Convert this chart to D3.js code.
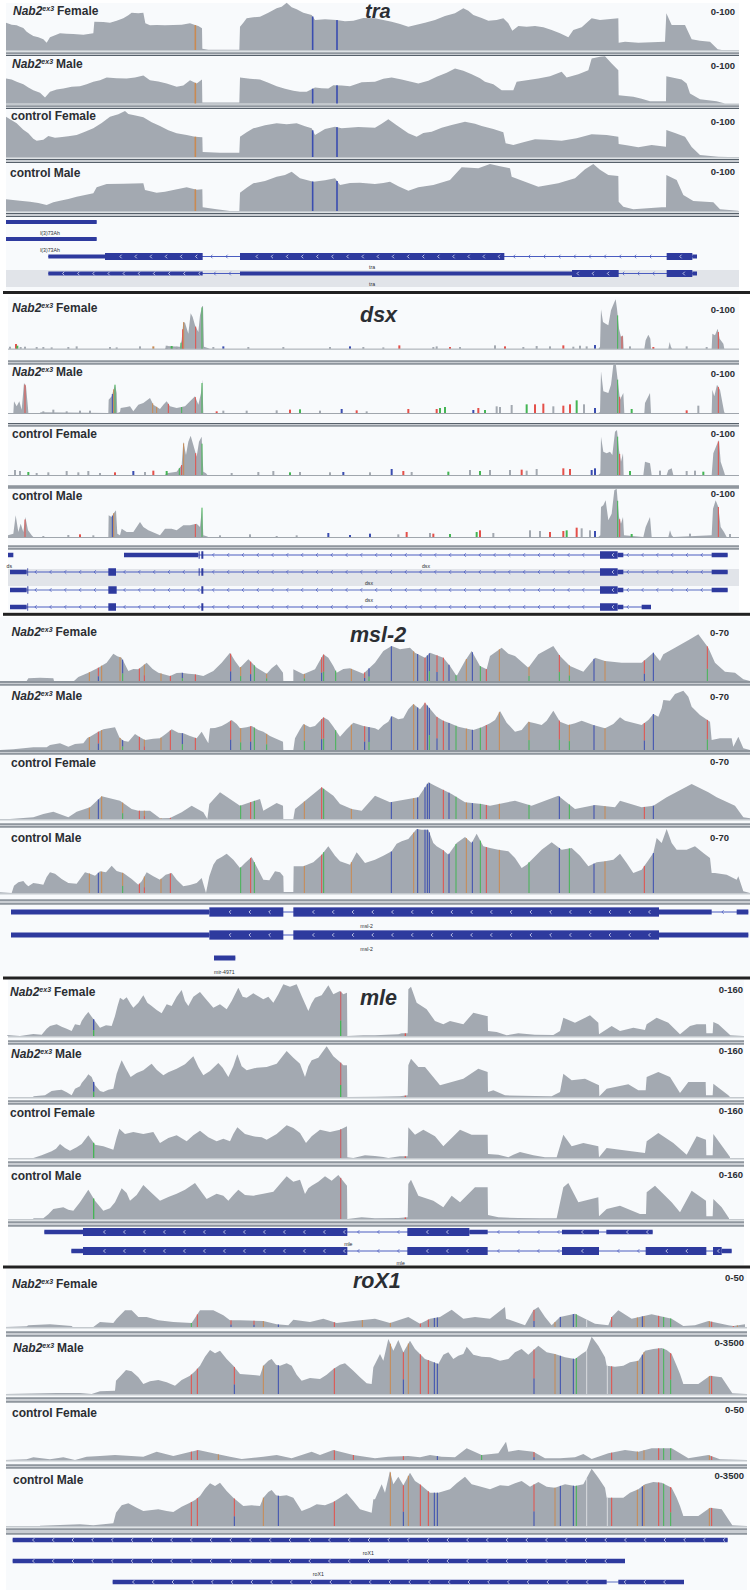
<!DOCTYPE html>
<html>
<head>
<meta charset="utf-8">
<title>Coverage tracks</title>
<script src="https://cdn.jsdelivr.net/npm/d3@7"></script>
<style>
  html, body { margin: 0; padding: 0; background: #fff; }
  svg { display: block; }
  text { font-family: "Liberation Sans", Arial, sans-serif; fill: #2b2e33; }
</style>
</head>
<body>
<div id="chart"></div>
<script>
// Coverage is stored as flat lists: position, height, position, height ...
// Position is window position (0-2250), height is relative read depth (150 = 50px of track)

// ---- tra ----
const traNabFemale = [18,82,35,76,50,74,60,70,70,66,80,55,90,48,100,42,115,38,130,32,140,22,150,38,165,44,180,50,200,49,220,48,250,46,280,50,283,85,310,84,330,82,350,88,370,95,385,104,395,112,415,110,430,112,436,80,450,74,470,75,495,74,520,75,545,76,570,80,585,75,595,72,606,65,607,4,625,1,718,1,720,70,730,82,740,95,760,98,780,100,805,112,830,125,845,130,860,142,875,128,890,122,910,112,935,105,945,90,975,92,1010,90,1035,86,1060,88,1090,96,1125,95,1150,90,1175,85,1200,78,1225,70,1250,76,1275,82,1305,90,1335,102,1365,110,1390,125,1405,118,1420,105,1445,96,1465,88,1490,90,1510,95,1525,80,1537,58,1555,72,1580,70,1605,72,1630,68,1655,60,1680,50,1705,38,1720,60,1745,68,1775,95,1800,90,1855,95,1856,22,1875,25,1915,22,1955,23,1995,25,1999,110,2015,75,2055,75,2075,32,2100,28,2130,25,2153,2,2165,0,2217,0];
const traNabMale = [18,75,35,72,50,65,70,58,85,48,100,40,120,32,135,18,150,35,170,42,190,45,215,50,240,52,260,58,280,65,300,70,320,78,350,76,380,75,405,78,430,84,450,70,475,66,500,60,530,50,550,54,570,70,590,60,606,72,607,3,718,3,720,78,750,74,780,72,805,62,830,52,855,44,880,38,900,35,920,35,945,48,965,46,985,45,1000,55,1025,54,1050,52,1085,64,1125,65,1150,74,1175,78,1205,72,1230,66,1255,60,1285,68,1310,80,1340,92,1365,105,1390,98,1415,88,1440,76,1455,65,1480,58,1505,40,1540,40,1550,65,1580,70,1615,75,1650,82,1685,95,1700,78,1735,88,1765,100,1775,135,1800,140,1815,142,1835,120,1855,100,1856,25,1900,20,1925,14,1950,7,1998,7,1999,82,2045,72,2060,60,2070,30,2100,13,2150,7,2175,0,2217,0];
const traCtrlFemale = [18,121,35,110,50,101,70,82,85,71,100,55,110,49,130,52,145,63,165,58,180,59,205,62,230,66,255,76,280,86,305,102,330,121,355,128,375,138,385,129,410,124,430,119,455,104,480,93,505,80,530,71,560,66,585,61,607,59,608,15,660,13,718,13,720,61,740,74,760,86,795,95,830,101,860,98,890,101,915,92,935,86,945,66,975,84,1005,91,1025,86,1075,90,1125,88,1145,100,1165,113,1190,95,1225,71,1250,61,1270,72,1295,76,1325,88,1355,96,1395,106,1425,100,1445,93,1480,84,1510,74,1517,41,1540,36,1570,44,1605,53,1640,52,1685,49,1730,56,1775,68,1820,66,1855,61,1856,39,1880,35,1915,29,1955,36,1998,31,1999,81,2025,72,2055,61,2075,30,2100,6,2155,1,2185,0,2217,0];
const traCtrlMale = [18,35,60,31,90,28,115,24,140,18,160,26,180,31,205,36,230,43,255,48,280,53,290,71,320,81,370,82,430,83,435,63,470,55,495,58,520,63,560,71,590,64,607,65,608,11,650,5,690,0,718,0,720,55,740,70,760,83,795,90,830,103,855,108,875,118,900,98,940,88,975,92,1005,98,1020,78,1050,84,1080,85,1125,81,1150,84,1170,88,1195,74,1225,61,1255,71,1300,78,1350,93,1385,131,1435,128,1470,141,1500,134,1530,128,1535,103,1575,88,1615,73,1675,83,1725,98,1755,125,1780,141,1800,124,1825,108,1855,105,1856,28,1870,13,1900,5,1985,11,1998,11,1999,108,2030,93,2050,48,2080,30,2140,26,2160,5,2215,1];
const traBars = [[586,'G'],[938,'C'],[1011,'C']];

// ---- dsx ----
const dsxNabFemale = [24,0,495,0,500,8,540,6,545,26,550,80,555,78,565,45,572,106,578,95,585,70,595,50,600,100,607,128,609,128,612,6,630,0,1795,0,1800,5,1803,118,1809,80,1817,75,1825,70,1833,115,1841,135,1847,148,1851,120,1857,60,1863,35,1869,40,1871,0,1933,0,1937,25,1945,42,1951,30,1953,0,2005,0,2009,20,2013,5,2016,0,2135,0,2137,45,2145,40,2153,60,2159,30,2170,15,2173,0,2217,0];
const dsxNabMale = [40,0,42,35,50,20,58,35,65,10,72,90,78,80,84,15,85,0,120,0,122,2,325,0,326,40,335,50,345,85,350,60,352,0,360,3,362,15,380,18,390,20,400,5,415,25,430,30,450,45,460,25,480,12,490,25,500,35,510,20,530,15,555,20,570,35,585,50,595,25,603,60,607,100,610,0,1795,0,1800,3,1803,125,1810,65,1825,60,1833,85,1840,145,1847,150,1853,100,1860,40,1870,60,1873,0,1933,0,1935,30,1950,60,1953,0,2135,0,2137,70,2143,50,2151,85,2160,70,2172,5,2174,0,2217,0];
const dsxCtrlFemale = [24,0,495,0,500,5,530,10,545,30,550,100,558,60,565,100,572,118,580,90,590,55,597,100,605,115,610,10,618,5,622,0,1795,0,1801,5,1803,115,1810,70,1820,65,1830,70,1837,60,1845,130,1851,135,1857,75,1863,40,1869,65,1871,0,1930,0,1935,40,1950,35,1955,0,2000,0,2005,15,2015,20,2020,0,2135,0,2140,65,2150,90,2157,105,2162,40,2172,10,2175,0,2217,0];
const dsxCtrlMale = [24,5,40,10,47,65,55,15,62,40,70,15,76,60,84,20,95,5,100,0,325,0,326,65,335,60,340,70,348,80,352,10,360,5,365,25,380,15,400,15,420,45,430,30,445,20,480,5,495,25,515,25,530,20,550,35,570,35,590,40,600,30,606,88,610,5,620,2,625,0,1795,0,1801,5,1803,90,1810,95,1817,110,1825,50,1835,70,1843,140,1850,145,1857,60,1863,40,1869,60,1872,5,1930,0,1937,30,1950,60,1955,0,2005,0,2010,20,2015,5,2020,0,2135,5,2139,85,2147,110,2155,90,2162,30,2172,15,2180,0,2217,0];

const dsxNabFemaleTicks = [30,6,'N',48,14,'T',52,9,'A',62,5,'N',75,6,'N',110,5,'N',130,5,'N',155,4,'N',205,5,'N',230,7,'N',330,5,'N',350,4,'N',420,7,'N',460,7,'G',500,9,'N',515,8,'A',530,6,'N',640,5,'N',670,7,'C',745,5,'N',850,5,'N',990,5,'N',1050,7,'C',1090,5,'N',1150,4,'N',1198,10,'T',1300,5,'N',1310,7,'N',1350,5,'T',1380,5,'N',1485,10,'N',1515,7,'T',1570,5,'N',1610,8,'N',1650,7,'N',1690,10,'T',1720,6,'N',1740,9,'N',1760,7,'N',1785,11,'C',1890,7,'N',1960,5,'T',2060,7,'N',2120,5,'N'];
const dsxNabMaleTicks = [130,5,'N',160,10,'N',200,5,'N',240,7,'N',270,7,'N',650,5,'T',670,7,'N',740,7,'N',830,8,'N',870,10,'T',900,11,'A',960,7,'N',1025,12,'C',1070,8,'T',1100,5,'N',1225,12,'T',1310,12,'T',1320,15,'A',1335,18,'A',1420,9,'C',1435,15,'T',1455,9,'A',1490,20,'N',1500,18,'N',1535,24,'N',1580,26,'A',1605,26,'T',1630,28,'T',1660,20,'N',1690,22,'T',1710,26,'T',1730,38,'A',1752,26,'N',1785,15,'C',1895,12,'A',2060,8,'T',2095,22,'N'];
const dsxCtrlFemaleTicks = [45,15,'N',60,12,'N',85,9,'A',110,6,'N',145,8,'N',200,12,'N',235,8,'N',265,12,'N',300,6,'N',345,8,'T',400,12,'C',435,9,'N',460,13,'T',500,12,'A',695,6,'N',775,9,'N',820,12,'N',870,8,'A',900,9,'N',990,8,'N',1030,9,'C',1110,8,'N',1175,18,'C',1210,12,'T',1235,9,'N',1345,10,'A',1410,15,'N',1440,12,'A',1470,15,'N',1530,15,'N',1565,16,'T',1580,13,'N',1610,18,'N',1690,20,'T',1710,18,'T',1775,15,'C',1785,20,'C',1890,12,'A',1980,13,'N',2010,9,'N',2060,12,'N',2085,13,'N',2110,10,'A'];
const dsxCtrlMaleTicks = [130,3,'N',205,6,'N',240,8,'T',280,5,'N',660,5,'N',750,8,'N',830,3,'N',890,5,'N',985,12,'C',1050,6,'C',1110,10,'C',1195,8,'N',1220,15,'T',1290,12,'N',1300,10,'T',1350,9,'A',1430,15,'A',1440,20,'T',1480,12,'N',1590,20,'N',1620,18,'N',1650,15,'T',1690,18,'T',1700,20,'A',1730,28,'T',1745,26,'N',1770,20,'N',1785,18,'C',1895,9,'A',2010,6,'N',2070,10,'N',2190,9,'N'];

const dsxNabFemaleBars = [[543,'A'],[548,'T'],[551,'G'],[587,'T'],[606,'A'],[1853,'A'],[1866,'T'],[2155,'T']];
const dsxNabMaleBars = [[75,'T'],[337,'C'],[341,'G'],[345,'A'],[458,'G'],[470,'G'],[505,'T'],[545,'A'],[586,'T'],[606,'A'],[1853,'A'],[1859,'T'],[2155,'T']];
const dsxCtrlFemaleBars = [[538,'A'],[545,'T'],[551,'G'],[587,'T'],[606,'A'],[1853,'A'],[1859,'T'],[2155,'T']];
const dsxCtrlMaleBars = [[75,'T'],[337,'C'],[341,'G'],[586,'T'],[606,'A'],[1853,'A'],[1859,'T'],[2155,'T']];

// ---- msl-2 ----
const mslNabFemale = [0,0,80,0,85,8,120,10,160,8,162,0,222,0,235,12,265,25,295,40,320,55,340,82,352,74,365,70,385,30,400,36,415,35,440,55,458,36,475,25,510,15,530,24,545,25,565,22,585,20,610,15,640,30,665,55,690,85,705,60,720,40,745,65,770,40,800,22,815,38,830,50,849,25,850,0,880,0,880,35,910,20,945,35,970,80,985,70,1000,45,1010,25,1030,36,1050,38,1070,30,1090,22,1125,55,1150,90,1175,105,1200,95,1230,100,1245,85,1275,70,1290,85,1330,70,1350,45,1370,15,1395,60,1415,90,1440,45,1460,35,1470,75,1505,100,1525,82,1545,75,1585,40,1615,80,1660,105,1680,75,1710,45,1750,28,1785,70,1815,60,1865,55,1925,55,1960,85,1980,60,1990,80,2025,100,2070,125,2095,140,2125,100,2145,55,2175,28,2205,25,2230,5,2250,0];
const mslNabMale = [0,0,40,2,100,8,140,8,150,15,180,20,205,10,225,18,250,20,262,36,270,40,295,55,310,62,345,68,358,38,370,28,385,25,405,48,420,38,435,30,460,34,480,35,500,50,515,62,535,52,550,50,570,42,590,35,605,55,625,20,630,65,645,66,665,72,680,80,695,90,710,78,720,65,740,68,755,72,775,60,790,55,810,42,825,35,849,25,850,0,880,0,885,35,900,62,910,78,930,68,945,72,970,98,985,90,1000,70,1020,40,1040,62,1060,82,1090,72,1125,65,1135,60,1150,75,1165,85,1175,102,1195,92,1210,95,1225,122,1240,138,1260,122,1275,142,1295,118,1310,100,1330,88,1350,80,1375,70,1395,65,1420,60,1445,68,1470,80,1485,90,1500,117,1520,82,1545,55,1565,60,1585,85,1605,80,1625,75,1640,88,1660,118,1680,85,1705,75,1725,80,1745,88,1780,75,1815,65,1840,78,1860,98,1875,88,1925,75,1945,90,1960,108,1975,100,1985,125,1990,150,2010,148,2025,168,2050,178,2065,160,2075,130,2100,105,2130,85,2135,30,2160,35,2195,35,2200,10,2215,40,2230,5,2250,0];
const mslCtrlFemale = [0,0,30,0,100,5,130,15,160,22,205,5,230,22,270,35,305,68,360,55,395,30,415,25,450,25,480,2,510,3,545,20,575,40,610,20,622,0,628,45,660,80,690,60,720,40,780,60,790,25,830,48,849,40,850,0,880,0,885,30,910,50,965,95,1000,70,1020,45,1055,30,1085,25,1125,70,1170,50,1225,60,1255,65,1285,110,1305,100,1355,75,1395,50,1445,45,1470,40,1545,55,1595,40,1675,70,1725,30,1785,42,1845,35,1860,55,1925,35,1960,40,2000,65,2075,105,2125,80,2150,65,2205,40,2230,5,2250,2];
const mslCtrlMale = [0,2,35,0,42,22,55,32,70,36,78,26,85,20,100,30,115,28,130,25,140,48,150,62,165,58,185,42,205,30,230,28,255,62,270,58,285,52,300,65,318,62,335,82,350,66,370,60,395,42,415,25,425,35,440,62,460,50,480,40,497,55,515,60,530,40,550,20,570,24,590,30,605,45,618,0,628,50,640,85,650,100,665,108,680,118,700,100,720,75,735,90,755,108,772,75,790,40,808,38,825,65,840,62,850,50,851,3,880,3,881,80,910,80,940,92,965,115,985,140,1005,112,1020,95,1050,85,1070,122,1095,90,1125,100,1150,112,1175,125,1190,148,1205,155,1225,162,1250,192,1265,190,1285,190,1300,150,1310,140,1330,128,1345,115,1370,150,1395,168,1415,150,1430,178,1450,140,1470,135,1495,130,1525,125,1545,105,1565,75,1580,85,1595,100,1625,130,1655,152,1685,130,1715,135,1740,112,1765,80,1790,92,1815,95,1840,100,1860,118,1880,90,1900,60,1925,70,1945,98,1960,120,1970,165,1985,150,2000,192,2015,150,2030,130,2060,130,2085,140,2110,120,2130,105,2135,60,2145,60,2180,55,2210,40,2215,50,2230,5,2250,0];

const mslNabBars = [[268,'G'],[295,'C','T'],[305,'G'],[360,'G'],[368,'A','C'],[418,'T'],[433,'T','G'],[483,'G'],[511,'T'],[547,'A','C'],[586,'T'],[692,'C','T'],[722,'A','G'],[752,'C','T'],[763,'A'],[800,'A','G'],[913,'A','G'],[965,'C','T'],[971,'A','T'],[1007,'A'],[1054,'G'],[1094,'C','T'],[1107,'A','C'],[1174,'C'],[1241,'G'],[1253,'C'],[1275,'T'],[1282,'C'],[1288,'A','C'],[1311,'C','T'],[1330,'T'],[1347,'C'],[1368,'A'],[1399,'G'],[1417,'C'],[1441,'A'],[1459,'T'],[1498,'G'],[1587,'A','G'],[1678,'A','T'],[1708,'A','G'],[1782,'C'],[1815,'G'],[1933,'C','T'],[1960,'C'],[2122,'A','T']];
const mslCtrlBars = [[268,'G'],[295,'C'],[305,'G'],[368,'A','G'],[418,'T'],[433,'T','G'],[483,'G'],[511,'T'],[722,'A'],[752,'T'],[763,'A'],[913,'G'],[965,'T'],[971,'A'],[1054,'G'],[1174,'C'],[1241,'G'],[1253,'C'],[1275,'C'],[1282,'C'],[1288,'C'],[1330,'T'],[1347,'C'],[1368,'A'],[1399,'G'],[1417,'C'],[1441,'A'],[1459,'T'],[1498,'G'],[1587,'A'],[1678,'C'],[1708,'A'],[1782,'C'],[1815,'G'],[1933,'T'],[1960,'C']];

// ---- mle ----
const mleNabFemale = [22,3,60,0,100,6,125,4,140,22,150,30,170,35,185,28,200,22,215,15,225,35,240,32,245,45,255,60,265,72,275,58,285,45,300,25,318,32,335,30,345,60,352,88,360,115,370,108,380,116,392,96,400,85,415,100,430,122,442,100,455,90,470,78,485,68,500,95,515,90,530,118,545,138,555,105,565,90,580,118,600,132,620,108,640,85,660,95,680,80,695,105,715,145,728,118,740,115,760,128,790,110,805,118,820,100,835,125,850,155,870,148,890,155,905,120,925,75,935,98,945,115,965,122,985,152,1000,125,1020,135,1030,125,1041,130,1042,0,1090,2,1125,2,1195,5,1205,8,1223,8,1225,140,1233,148,1250,100,1280,80,1305,45,1330,35,1350,45,1390,35,1420,70,1460,60,1463,60,1464,15,1490,12,1520,2,1555,8,1605,4,1660,3,1680,15,1690,55,1725,40,1770,62,1795,40,1797,5,1820,20,1835,30,1860,15,1900,25,1935,18,1940,35,1970,55,2005,40,2040,5,2070,30,2090,35,2118,35,2119,8,2138,8,2140,42,2155,35,2191,2,2230,0];
const mleNabMale = [100,2,135,5,155,18,170,20,185,22,200,14,215,5,225,25,240,32,245,42,258,58,265,68,275,60,285,35,300,18,310,15,325,22,340,25,350,70,358,92,365,110,378,85,392,60,410,72,430,80,445,92,455,100,470,82,490,65,505,74,530,85,555,98,580,122,595,90,610,65,630,78,655,102,668,88,685,60,700,92,712,128,725,92,740,80,770,88,800,90,830,100,860,138,880,118,900,100,915,60,925,92,935,110,955,118,980,152,1000,122,1020,105,1030,95,1041,95,1042,0,1125,1,1200,2,1223,5,1225,95,1233,115,1255,90,1275,90,1320,35,1355,45,1390,55,1435,85,1463,75,1464,15,1480,20,1515,5,1605,3,1655,2,1680,15,1690,70,1715,50,1755,55,1797,35,1798,2,1820,25,1885,38,1915,20,1937,20,1940,60,1975,75,2010,60,2040,12,2065,45,2117,45,2118,5,2138,5,2140,40,2185,5,2190,0];
const mleCtrlFemale = [100,0,125,8,155,20,168,28,180,42,195,30,210,22,230,32,245,42,265,68,285,40,310,35,340,25,350,62,358,88,375,72,400,78,430,72,460,78,480,45,505,60,530,68,560,50,580,68,600,82,625,62,650,50,670,58,690,50,700,72,712,92,735,72,760,65,785,62,800,55,830,72,860,98,880,90,900,75,918,45,935,65,960,85,990,78,1020,85,1041,95,1042,2,1060,0,1095,8,1125,6,1150,3,1165,0,1200,5,1223,5,1225,92,1245,70,1270,85,1305,65,1330,35,1380,85,1415,70,1463,70,1464,12,1495,10,1525,2,1540,10,1560,18,1600,8,1635,2,1670,2,1690,70,1715,35,1750,45,1795,35,1797,2,1820,30,1860,25,1935,15,1940,50,1975,75,2020,45,2060,10,2090,65,2118,55,2119,8,2138,8,2140,72,2190,3];
const mleCtrlMale = [100,2,130,2,145,14,160,30,190,35,205,28,220,25,240,50,252,68,265,88,285,55,310,25,330,32,345,50,365,92,380,78,390,55,410,72,430,102,455,78,480,55,505,66,530,76,555,88,585,108,605,80,620,60,650,76,670,70,685,55,700,72,715,88,735,72,760,70,790,76,820,82,840,105,860,128,880,112,900,118,915,75,925,92,935,100,955,112,975,128,995,115,1015,132,1041,100,1042,0,1085,5,1125,2,1195,3,1223,5,1225,105,1233,118,1255,70,1300,55,1330,35,1355,70,1380,50,1425,95,1463,95,1464,12,1495,5,1555,3,1620,2,1670,2,1690,95,1705,108,1735,50,1795,65,1797,8,1820,30,1860,40,1920,15,1938,15,1940,80,1965,100,2015,50,2040,20,2075,85,2118,55,2119,8,2138,8,2140,60,2165,35,2187,2];

const mleNabBars = [[281,'A','C'],[1022,'A','M'],[1216,'T']];
const mleCtrlBars = [[281,'A'],[1022,'M'],[1216,'T']];

// ---- roX1 ----
const roxNabFemale = [15,0,80,2,85,5,150,8,215,3,218,0,280,0,300,15,340,12,350,25,375,50,395,50,415,30,440,30,475,20,520,15,575,12,600,50,640,50,670,35,690,20,720,20,790,18,830,8,865,5,880,22,930,15,970,25,1010,12,1060,18,1125,25,1170,12,1225,30,1260,10,1290,25,1320,30,1355,52,1390,25,1425,30,1470,25,1515,60,1518,25,1575,5,1600,50,1615,60,1635,30,1655,5,1680,30,1725,40,1785,10,1825,5,1835,30,1855,50,1895,25,1955,38,2015,25,2050,3,2085,5,2125,18,2185,5,2200,3,2235,8];
const roxNabMale = [15,0,170,3,240,3,275,0,300,8,345,10,348,40,365,58,378,72,395,68,415,50,430,30,450,38,475,42,500,35,525,25,545,42,570,55,585,68,600,85,615,112,630,132,645,122,660,130,680,105,700,85,720,60,750,58,780,55,790,85,805,100,815,105,828,88,840,85,860,92,875,85,890,58,905,40,930,48,960,45,980,58,1000,75,1020,88,1035,92,1060,70,1080,50,1100,32,1115,30,1120,80,1125,90,1140,120,1150,100,1165,165,1180,130,1195,162,1210,125,1230,160,1245,135,1260,120,1275,105,1290,100,1315,90,1330,118,1345,125,1360,105,1375,115,1390,120,1400,142,1420,118,1445,112,1470,110,1500,100,1525,105,1545,125,1565,135,1585,118,1615,145,1640,125,1665,120,1695,110,1725,105,1745,120,1760,130,1775,172,1795,145,1815,110,1820,85,1845,82,1870,85,1890,95,1915,100,1935,130,1960,135,1985,138,2000,132,2015,120,2030,85,2040,60,2050,30,2095,30,2130,55,2165,50,2197,2,2240,0];
const roxCtrlFemale = [15,0,80,2,100,8,150,2,190,8,225,0,260,10,300,12,345,15,430,10,470,25,520,12,560,22,595,30,640,20,690,10,725,3,790,10,830,15,875,5,905,15,935,25,960,15,1000,30,1060,15,1125,5,1165,10,1225,12,1260,8,1290,15,1325,10,1365,8,1400,35,1445,15,1495,20,1518,55,1525,25,1555,30,1600,25,1635,5,1680,5,1725,8,1750,18,1775,3,1825,20,1875,30,1915,25,1955,35,2015,35,2065,5,2125,15,2160,2,2240,0];
const roxCtrlMale = [120,1,240,5,280,2,340,8,348,40,365,62,385,68,410,55,430,45,475,50,500,45,520,42,545,58,570,70,585,78,600,90,615,112,630,128,645,120,660,130,680,105,700,85,730,60,755,62,780,60,790,85,805,102,815,108,828,92,840,90,860,92,880,85,905,45,930,55,950,65,975,62,1000,72,1020,85,1040,98,1060,75,1080,50,1115,40,1120,80,1125,80,1145,125,1155,100,1170,165,1180,125,1195,148,1210,122,1230,160,1245,135,1260,125,1290,100,1315,100,1350,110,1370,128,1395,148,1415,125,1435,120,1470,110,1500,122,1525,120,1545,128,1565,135,1590,118,1615,132,1640,118,1665,115,1695,125,1725,120,1750,125,1775,172,1795,145,1815,115,1820,85,1845,85,1870,85,1890,100,1915,110,1935,125,1960,132,1985,130,2015,115,2030,85,2040,60,2050,30,2095,30,2130,55,2165,50,2197,2,2240,0];

const roxMaleBars = [[574,'T'],[592,'T'],[703,'C','T'],[790,'G'],[835,'C'],[1003,'T'],[1171,'G'],[1210,'C','T'],[1225,'G'],[1261,'T'],[1285,'T'],[1303,'C'],[1312,'C'],[1602,'C','T'],[1665,'G'],[1681,'C'],[1720,'C'],[1729,'A'],[1760,'W'],[1822,'W'],[1835,'T'],[1912,'G'],[1927,'C'],[1932,'G'],[1976,'T'],[1991,'A'],[2012,'A','T'],[2128,'G'],[2135,'T']];
const roxNabFemaleBars = [[574,'A'],[592,'T'],[693,'C','T'],[762,'C','T'],[790,'G'],[835,'C'],[1003,'T'],[1087,'G'],[1171,'G'],[1261,'T'],[1285,'T'],[1303,'C'],[1312,'C'],[1602,'C','T'],[1665,'G'],[1681,'C'],[1720,'C'],[1729,'A'],[1760,'W'],[1835,'T'],[1912,'G'],[1927,'C'],[1932,'G'],[1976,'T'],[1991,'A'],[2012,'A'],[2128,'G'],[2135,'T'],[2200,'T'],[2212,'G']];
const roxCtrlFemaleBars = [[574,'T'],[592,'T'],[655,'G'],[1003,'T'],[1060,'T'],[1210,'T'],[1312,'C'],[1445,'A'],[1602,'C','T'],[1835,'T'],[1912,'G'],[1932,'G'],[1976,'T'],[1991,'A'],[2012,'A'],[2128,'G'],[2135,'T']];

// ---- text ----
const geneNames = ['tra', 'dsx', 'msl-2', 'mle', 'roX1'];
const traRanges = ['0-100', '0-100', '0-100', '0-100'];
const dsxRanges = ['0-100', '0-100', '0-100', '0-100'];
const mslRanges = ['0-70', '0-70', '0-70', '0-70'];
const mleRanges = ['0-160', '0-160', '0-160', '0-160'];
const roxRanges = ['0-50', '0-3500', '0-50', '0-3500'];

// ---- transcripts: blocks are [start, end, kind, chevronStart]; c = coding, u = utr, x = thin with arrows ----
const traGenes = [
  { row: 222, blocks: [[18,290,'u']], label: 'l(3)73Ah', labelAt: 150 },
  { row: 239, blocks: [[18,290,'u']], label: 'l(3)73Ah', labelAt: 150 },
  { row: 256.5, blocks: [[145,315,'u'],[315,608,'c'],[720,1513,'c'],[2000,2077,'c'],[2077,2091,'u']], chev: 362, label: 'tra', labelAt: 1116 },
  { row: 273.5, blocks: [[145,608,'x'],[720,1716,'u'],[1716,1856,'c'],[2000,2077,'c'],[2077,2091,'u']], chev: 190, label: 'tra', labelAt: 1116 }
];
const dsxGenes = [
  { row: 555, blocks: [[24,40,'u'],[372,595,'u'],[596,599,'c'],[604,610,'c'],[1800,1853,'c'],[1853,1870,'u'],[2135,2183,'u']], line: [372,2183], chev: 107, label: 'ds', labelAt: 28, labelRow: 566 },
  { row: 572, blocks: [[30,80,'u'],[82,84,'c'],[325,348,'c'],[596,599,'c'],[604,610,'c'],[1800,1853,'c'],[1853,1870,'u'],[2135,2183,'u']], chev: 107, label: 'dsx', labelAt: 1278, labelRow: 566 },
  { row: 590, blocks: [[30,80,'u'],[82,85,'c'],[325,350,'c'],[604,610,'c'],[1800,1853,'c'],[1853,1870,'u'],[2135,2183,'u']], chev: 107, wide: true, label: 'dsx', labelAt: 1107, labelRow: 583 },
  { row: 607, blocks: [[30,80,'u'],[82,84,'c'],[325,348,'c'],[604,610,'c'],[1800,1853,'c'],[1853,1870,'u'],[1925,1953,'u']], chev: 107, label: 'dsx', labelAt: 1107, labelRow: 600 }
];
const mslGenes = [
  { row: 912, blocks: [[33,628,'u'],[628,850,'c',690],[880,1977,'c',940],[1977,2135,'u'],[2210,2245,'u']], chev: 2168, label: 'msl-2', labelAt: 1100 },
  { row: 935, blocks: [[33,628,'u'],[628,850,'c',690],[880,1977,'c',940],[1977,2245,'u']], chev: 2168, label: 'msl-2', labelAt: 1100 },
  { row: 958, blocks: [[642,706,'u']], label: 'mir-4971', labelAt: 673 }
];
const mleGenes = [
  { row: 1232, blocks: [[133,249,'u'],[249,1042,'c',313],[1222,1408,'c',1282],[1408,1463,'u'],[1686,1797,'x',1747],[1819,1958,'x',1882]], chev: 1075, label: 'mle', labelAt: 1045 },
  { row: 1251, blocks: [[214,249,'u'],[249,1042,'c',313],[1222,1463,'c',1282],[1686,1797,'c',1747],[1937,2119,'c',2000],[2139,2165,'c'],[2165,2195,'u']], chev: 1075, label: 'mle', labelAt: 1202 }
];
const roxGenes = [
  { row: 1540, blocks: [[38,2183,'x',100]], chev: 100, label: 'roX1', labelAt: 1105 },
  { row: 1561, blocks: [[38,1875,'x',100]], chev: 100, label: 'roX1', labelAt: 955 },
  { row: 1582, blocks: [[338,1820,'x',400],[1855,2052,'x',1875]], chev: 400, wide: true }
];

// ---- layout ----
const sampleNames = [['Nab2', 'Female'], ['Nab2', 'Male'], ['control', 'Female'], ['control', 'Male']];
const baseColors = { A: '#44b554', C: '#3a4db0', G: '#c98a52', T: '#e4504a', M: '#c4696f', W: '#d9dcdf', N: '#a3a9b1' };
const covColor = '#a3a9b1', bgColor = '#f8fafc', geneColor = '#2e3a9e', intronColor = '#4a5cc0', bandColor = '#e1e4e9';

const panels = [
  { gene: geneNames[0], x0: 6, x1: 739, y0: 3, y1: 290, titleX: 365, titleY: 18.2, titleSize: 20, rangeX: 735,
    tracks: [traNabFemale, traNabMale, traCtrlFemale, traCtrlMale],
    bars: [traBars, traBars, traBars, traBars], barW: 1.6,
    bases: [50, 103.5, 157, 211], seps: [[53,55.5],[106,108.5],[159.5,162.5],[213.5,216.5]],
    labelXY: [[13,15],[12,68],[11,120],[10,177]], rangeY: [15,69,125,175], ranges: traRanges,
    genes: traGenes, chevStep: 45.4, band: [270,287], rule: 292.5, exonH: 7, utrH: 4, labelOff: 10.7 },
  { gene: geneNames[1], x0: 8, x1: 739, y0: 297, y1: 612, titleX: 360, titleY: 322, titleSize: 21.5, rangeX: 735,
    tracks: [dsxNabFemale, dsxNabMale, dsxCtrlFemale, dsxCtrlMale],
    ticks: [dsxNabFemaleTicks, dsxNabMaleTicks, dsxCtrlFemaleTicks, dsxCtrlMaleTicks],
    bars: [dsxNabFemaleBars, dsxNabMaleBars, dsxCtrlFemaleBars, dsxCtrlMaleBars], barW: 1,
    bases: [348.7, 413, 475, 537], seps: [[361,364],[423.5,426],[486,488],[546,549]],
    labelXY: [[12,312],[12,376],[12,438],[12,500]], rangeY: [313,377,437,497], ranges: dsxRanges,
    genes: dsxGenes, chevStep: 44.4, band: [569,586], rule: 614.3, exonH: 7.5, utrH: 4.5, labelOff: 11 },
  { gene: geneNames[2], x0: 0, x1: 750, y0: 617, y1: 976, titleX: 350, titleY: 642, titleSize: 21.5, rangeX: 729,
    tracks: [mslNabFemale, mslNabMale, mslCtrlFemale, mslCtrlMale],
    bars: [mslNabBars, mslNabBars, mslCtrlBars, mslCtrlBars], barW: 1,
    bases: [681, 750, 819, 893], seps: [[682,685],[751,754],[824,827],[900,904]],
    labelXY: [[11.5,636],[11.5,700],[11,767],[11,842]], rangeY: [636,700,765,841], ranges: mslRanges,
    genes: mslGenes, chevStep: 59.3, rule: 978, exonH: 9.3, utrH: 5, labelOff: 14 },
  { gene: geneNames[3], x0: 8, x1: 744, y0: 980, y1: 1265, titleX: 360, titleY: 1005, titleSize: 21.5, rangeX: 743,
    tracks: [mleNabFemale, mleNabMale, mleCtrlFemale, mleCtrlMale],
    bars: [mleNabBars, mleNabBars, mleCtrlBars, mleCtrlBars], barW: 1.3,
    bases: [1036, 1097, 1158, 1219], seps: [[1041,1044],[1101,1104],[1162,1166],[1222,1226]],
    labelXY: [[10,996],[11,1058],[10,1117],[11,1180]], rangeY: [993,1054,1114,1178], ranges: mleRanges,
    genes: mleGenes, chevStep: 60, rule: 1267, exonH: 8, utrH: 4.5, labelOff: 12 },
  { gene: geneNames[4], x0: 6, x1: 747, y0: 1269, y1: 1590, titleX: 353, titleY: 1288, titleSize: 21.5, rangeX: 744,
    tracks: [roxNabFemale, roxNabMale, roxCtrlFemale, roxCtrlMale],
    bars: [roxNabFemaleBars, roxMaleBars, roxCtrlFemaleBars, roxMaleBars], barW: 1,
    bases: [1327, 1394, 1460, 1526], seps: [[1332,1336],[1398,1402],[1465,1468],[1529,1534]],
    labelXY: [[12,1288],[13,1352],[12,1417],[13,1484]], rangeY: [1281,1346,1413,1479], ranges: roxRanges,
    genes: roxGenes, chevStep: 59.2, exonH: 5, utrH: 4.5, labelOff: 13 }
];

// ---- scales ----
const x = d3.scaleLinear().domain([0, 2250]).range([0, 750]);
const h = d3.scaleLinear().domain([0, 150]).range([0, 50]);

const svg = d3.select('#chart').append('svg').attr('width', 750).attr('height', 1590);

// flat list into [pos, height] pairs
function toPoints(flat) {
  return d3.range(0, flat.length, 2).map(i => [flat[i], flat[i + 1]]);
}

// height of a coverage track at a position
function covAt(points, pos) {
  const i = d3.bisector(d => d[0]).right(points, pos);
  if (i <= 0 || i >= points.length) return 0;
  const a = points[i - 1], b = points[i];
  if (b[0] === a[0]) return b[1];
  return a[1] + (b[1] - a[1]) * (pos - a[0]) / (b[0] - a[0]);
}

function drawTrack(g, p, t) {
  const base = p.bases[t];
  const points = toPoints(p.tracks[t]);

  // light band under the coverage
  if (!p.ticks) {
    g.append('rect').attr('x', p.x0).attr('y', base).attr('width', p.x1 - p.x0).attr('height', 1.5).attr('fill', '#c4c9ce');
  }

  const area = d3.area().x(d => x(d[0])).y0(base).y1(d => base - h(d[1]));
  g.append('path').attr('d', area(points)).attr('fill', covColor);

  // small isolated reads near the baseline
  if (p.ticks) {
    const tk = p.ticks[t];
    const rows = d3.range(0, tk.length, 3).map(i => [tk[i], tk[i + 1], tk[i + 2]]);
    g.append('g').attr('class', 'ticks').selectAll('rect').data(rows).enter().append('rect')
      .attr('x', d => x(d[0]) - 1)
      .attr('width', 2)
      .attr('y', d => base - h(d[1]))
      .attr('height', d => h(d[1]))
      .attr('fill', d => baseColors[d[2]]);
    g.append('rect').attr('x', p.x0).attr('y', base).attr('width', p.x1 - p.x0).attr('height', 0.8).attr('fill', '#8a9199');
  }

  // mismatch bars, one or two colours
  const bars = p.bars[t];
  bars.forEach(d => {
    const top = h(covAt(points, d[0]));
    const bx = x(d[0]) - p.barW / 2;
    if (d[2]) {
      g.append('rect').attr('x', bx).attr('width', p.barW).attr('y', base - top).attr('height', top * 0.65).attr('fill', baseColors[d[2]]);
      g.append('rect').attr('x', bx).attr('width', p.barW).attr('y', base - top * 0.35).attr('height', top * 0.35).attr('fill', baseColors[d[1]]);
    } else {
      g.append('rect').attr('x', bx).attr('width', p.barW).attr('y', base - top).attr('height', top).attr('fill', baseColors[d[1]]);
    }
  });

  // separator under the track
  const s = p.seps[t];
  g.append('rect').attr('x', p.x0).attr('y', s[0]).attr('width', p.x1 - p.x0).attr('height', s[1] - s[0]).attr('fill', '#c9cdd2');
  s.forEach(y => {
    g.append('rect').attr('x', p.x0).attr('y', y - 0.5).attr('width', p.x1 - p.x0).attr('height', 1).attr('fill', '#56606a');
  });

  // sample label
  const name = sampleNames[t];
  const txt = g.append('text').attr('x', p.labelXY[t][0]).attr('y', p.labelXY[t][1])
    .attr('font-size', 12).attr('font-weight', 'bold');
  if (name[0] === 'Nab2') {
    txt.append('tspan').attr('font-style', 'italic').text('Nab2');
    txt.append('tspan').attr('font-style', 'italic').attr('font-size', 7).attr('dy', -4).text('ex3');
    txt.append('tspan').attr('dy', 4).attr('dx', 3).text(name[1]);
  } else {
    txt.append('tspan').text(name[0]);
    txt.append('tspan').attr('dx', 3).text(name[1]);
  }

  // data range
  g.append('text').attr('x', p.rangeX).attr('y', p.rangeY[t]).attr('text-anchor', 'end')
    .attr('font-size', 9.5).attr('font-weight', 'bold').text(p.ranges[t]);
}

function chevron(g, px, y, color) {
  g.append('path').attr('d', `M${px + 1},${y - 1.8}L${px - 0.8},${y}L${px + 1},${y + 1.8}`)
    .attr('fill', 'none').attr('stroke', color).attr('stroke-width', 0.8);
}

function drawGene(g, p, tr) {
  const y = tr.row;
  const ext = tr.line || [d3.min(tr.blocks, b => b[0]), d3.max(tr.blocks, b => b[1])];

  // intron line
  g.append('line').attr('x1', x(ext[0])).attr('x2', x(ext[1])).attr('y1', y).attr('y2', y)
    .attr('stroke', tr.wide ? '#a9b4df' : intronColor).attr('stroke-width', tr.wide ? 2.2 : 1);

  // exons
  tr.blocks.forEach(b => {
    const bh = b[2] === 'c' ? p.exonH : p.utrH;
    g.append('rect').attr('x', x(b[0])).attr('y', y - bh / 2)
      .attr('width', Math.max(x(b[1]) - x(b[0]), 0.8)).attr('height', bh).attr('fill', geneColor);
  });

  if (tr.chev === undefined) return;
  const step = p.chevStep;

  // white arrows inside blocks
  tr.blocks.forEach(b => {
    if (b[2] === 'u') return;
    const start = b[3] !== undefined ? b[3] : tr.chev;
    const first = start + Math.ceil((b[0] + 8 - start) / step) * step;
    d3.range(first, b[1] - 6, step).forEach(pos => chevron(g, x(pos), y, '#dfe3f5'));
  });

  // blue arrows along the introns, only where the gap is wide enough
  const sorted = tr.blocks.filter(b => b[0] >= ext[0]).slice().sort((a, b) => a[0] - b[0]);
  d3.pairs(sorted).forEach(([a, b]) => {
    if (b[0] - a[1] < 40) return;
    const lo = tr.chev + Math.ceil((a[1] + 6 - tr.chev) / step) * step;
    d3.range(lo, b[0] - 6, step).forEach(pos => chevron(g, x(pos), y, intronColor));
  });
}

panels.forEach(p => {
  const g = svg.append('g').attr('class', 'panel');

  g.append('rect').attr('x', p.x0).attr('y', p.y0).attr('width', p.x1 - p.x0).attr('height', p.y1 - p.y0).attr('fill', bgColor);

  if (p.band) {
    g.append('rect').attr('x', p.x0).attr('y', p.band[0]).attr('width', p.x1 - p.x0).attr('height', p.band[1] - p.band[0]).attr('fill', bandColor);
  }

  p.tracks.forEach((tr, t) => drawTrack(g, p, t));

  // gene models and their names
  p.genes.forEach(tr => {
    drawGene(g, p, tr);
    if (tr.label) {
      g.append('text').attr('x', x(tr.labelAt)).attr('y', (tr.labelRow || tr.row + p.labelOff) + 1.8)
        .attr('text-anchor', 'middle').attr('font-size', 5.2).attr('fill', '#333').text(tr.label);
    }
  });

  // gene title
  g.append('text').attr('x', p.titleX).attr('y', p.titleY)
    .attr('font-size', p.titleSize).attr('font-weight', 'bold').attr('font-style', 'italic').attr('fill', '#1a1a1a').text(p.gene);

  // heavy rule under the panel
  if (p.rule) {
    g.append('rect').attr('x', 3).attr('y', p.rule - 1.5).attr('width', 747).attr('height', 3).attr('fill', '#222');
  }
});
</script>
</body>
</html>
